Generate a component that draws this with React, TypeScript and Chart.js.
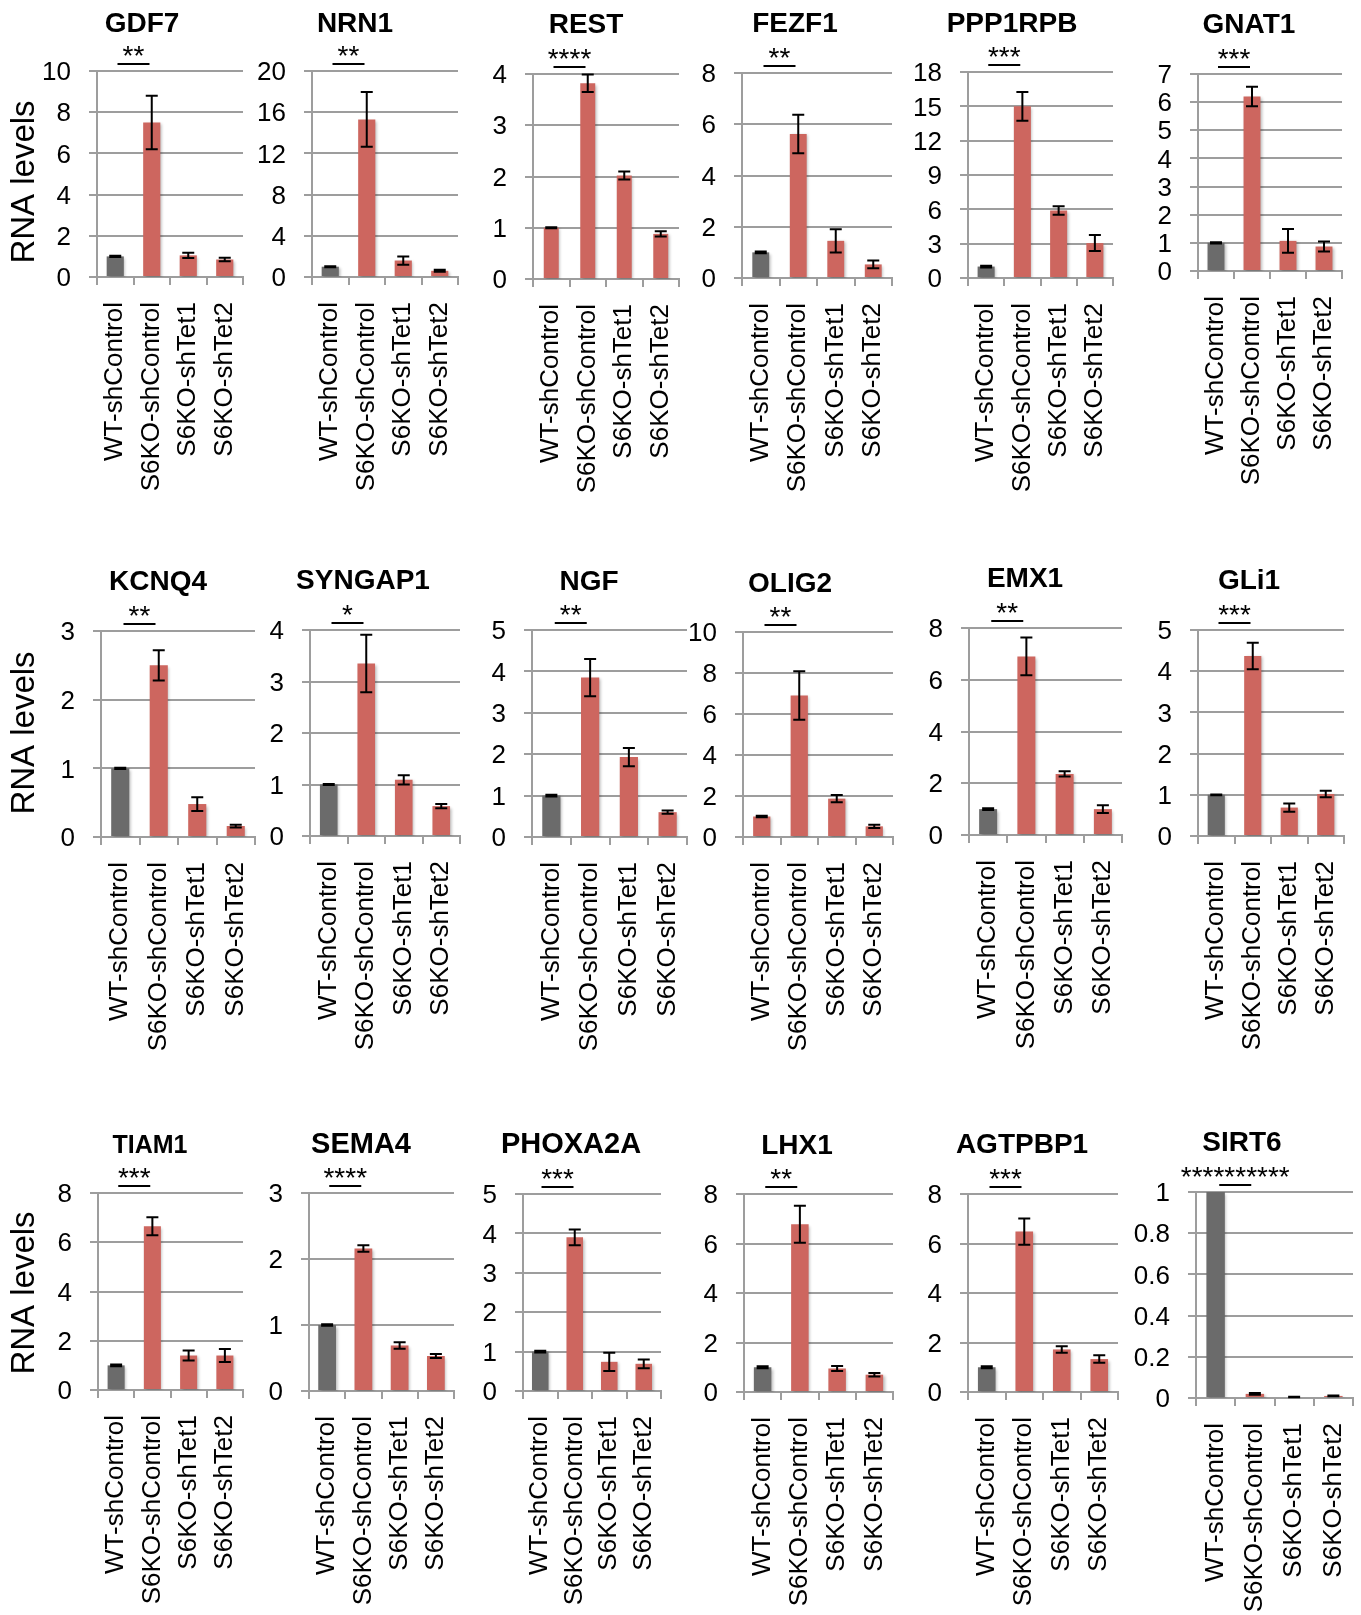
import React, { useEffect, useRef } from 'react';
import { Chart, registerables } from 'chart.js';

Chart.register(...registerables);

const FONT = '"Liberation Sans", Arial, Helvetica, sans-serif';
Chart.defaults.font.family = FONT;

// ---------- data ----------
const categories = ['WT-shControl', 'S6KO-shControl', 'S6KO-shTet1', 'S6KO-shTet2'];

const genes = [
  'GDF7', 'NRN1', 'REST', 'FEZF1', 'PPP1RPB', 'GNAT1',
  'KCNQ4', 'SYNGAP1', 'NGF', 'OLIG2', 'EMX1', 'GLi1',
  'TIAM1', 'SEMA4', 'PHOXA2A', 'LHX1', 'AGTPBP1', 'SIRT6',
];

const stars = [
  '**', '**', '****', '**', '***', '***',
  '**', '*', '**', '**', '**', '***',
  '***', '****', '***', '**', '***', '**********',
];

const means = [
  [1.0, 7.5, 1.05, 0.85],
  [1.0, 15.3, 1.6, 0.6],
  [1.0, 3.82, 2.02, 0.88],
  [1.0, 5.62, 1.45, 0.53],
  [1.0, 15.0, 5.9, 3.05],
  [1.0, 6.2, 1.07, 0.87],
  [1.0, 2.5, 0.48, 0.16],
  [1.0, 3.35, 1.09, 0.58],
  [1.0, 3.85, 1.93, 0.6],
  [1.0, 6.9, 1.87, 0.52],
  [1.0, 6.9, 2.36, 1.0],
  [1.0, 4.37, 0.69, 1.02],
  [1.0, 6.65, 1.4, 1.4],
  [1.0, 2.16, 0.69, 0.53],
  [1.0, 3.9, 0.74, 0.69],
  [1.0, 6.78, 0.95, 0.7],
  [1.0, 6.48, 1.72, 1.33],
  [1.0, 0.02, 0.005, 0.01],
];

const errors = [
  [0.03, 1.3, 0.13, 0.08],
  [0.05, 2.65, 0.4, 0.1],
  [0.01, 0.17, 0.08, 0.05],
  [0.03, 0.75, 0.45, 0.15],
  [0.08, 1.25, 0.38, 0.7],
  [0.02, 0.35, 0.42, 0.18],
  [0.01, 0.22, 0.1, 0.02],
  [0.01, 0.56, 0.09, 0.04],
  [0.02, 0.45, 0.22, 0.04],
  [0.04, 1.18, 0.18, 0.08],
  [0.03, 0.73, 0.1, 0.15],
  [0.01, 0.32, 0.1, 0.08],
  [0.04, 0.37, 0.2, 0.26],
  [0.01, 0.05, 0.05, 0.03],
  [0.02, 0.2, 0.23, 0.11],
  [0.04, 0.75, 0.1, 0.07],
  [0.04, 0.53, 0.13, 0.15],
  [0, 0.004, 0.001, 0.002],
];

const yMax = [10, 20, 4, 8, 18, 7, 3, 4, 5, 10, 8, 5, 8, 3, 5, 8, 8, 1];
const yStep = [2, 4, 1, 2, 3, 1, 1, 1, 1, 2, 2, 1, 2, 1, 1, 2, 2, 0.2];
// whether the WT-shControl bar is drawn in the red colour
const firstBarRed = [false, false, true, false, false, false, false, false, false, true, false, false, false, false, false, false, false, false];

const yAxisTitle = 'RNA levels';

// ---------- layout / style ----------
const RED = '#cd665f';
const GRAY = '#6b6b6b';
const GRID = '#9d9d9d';

// plot area [left, top, right, bottom] in page px
const plotBoxes = [
  [97, 71, 243, 277], [312, 71, 458, 277], [533, 74, 679, 279], [742, 73, 892, 278], [968, 72, 1113, 278], [1198, 74, 1342, 271],
  [101, 631, 255, 837], [310, 630, 460, 836], [532, 630, 687, 837], [743, 632, 893, 837], [969, 628, 1122, 835], [1198, 630, 1344, 836],
  [98, 1193, 243, 1390], [309, 1193, 454, 1391], [523, 1194, 661, 1391], [744, 1194, 893, 1392], [968, 1194, 1118, 1392], [1196, 1192, 1353, 1398],
];
// title centre x, baseline y
const titlePos = [
  [142, 32], [355, 32], [586, 33], [795, 32], [1012, 32], [1249, 33],
  [158, 590], [363, 589], [589, 590], [790, 592], [1025, 587], [1249, 589],
  [150, 1153], [361, 1153], [571, 1153], [797, 1154], [1022, 1153], [1242, 1151],
];
const titleSize = [28, 28, 28, 28, 28, 28, 28, 28, 28, 28, 28, 28, 25, 29, 29, 28, 28, 28];
const barPct = [0.47, 0.47, 0.41, 0.45, 0.47, 0.47, 0.47, 0.47, 0.47, 0.46, 0.47, 0.47, 0.47, 0.49, 0.48, 0.47, 0.47, 0.47];
const yLabelPos = [[25, 182], [25, 733], [25, 1293]];

function Panel({ idx }: { idx: number }) {
  const ref = useRef<HTMLCanvasElement>(null);
  const [L, T, R, B] = plotBoxes[idx];
  const col = idx % 6;
  const row = Math.floor(idx / 6);
  const cx = col === 0 ? 0 : L - 90;
  const cy = T - 71;
  const cw = R + 8 - cx;
  const ch = Math.min(B + 228, 1612) - cy;

  useEffect(() => {
    const canvas = ref.current!;
    const vals = means[idx];
    const errs = errors[idx];
    const colors = vals.map((_, i) => (i === 0 && !firstBarRed[idx] ? GRAY : RED));

    const decor = {
      id: 'decor' + idx,
      beforeDatasetsDraw(chart: any) {
        const ctx = chart.ctx;
        ctx.save();
        ctx.shadowColor = 'rgba(0,0,0,0.28)';
        ctx.shadowBlur = 3;
        ctx.shadowOffsetX = 1.5;
        ctx.shadowOffsetY = 1.5;
      },
      afterDatasetsDraw(chart: any) {
        const ctx = chart.ctx;
        ctx.restore();
        const meta = chart.getDatasetMeta(0);
        const ys = chart.scales.y;
        ctx.save();
        ctx.strokeStyle = '#000';
        ctx.lineWidth = 2;
        meta.data.forEach((bar: any, i: number) => {
          const e = errs[i];
          if (!e) return;
          const v = vals[i];
          const yt = ys.getPixelForValue(v + e);
          const yb = ys.getPixelForValue(v - e);
          ctx.beginPath();
          ctx.moveTo(bar.x, yt);
          ctx.lineTo(bar.x, yb);
          ctx.moveTo(bar.x - 6, yt);
          ctx.lineTo(bar.x + 6, yt);
          ctx.moveTo(bar.x - 6, yb);
          ctx.lineTo(bar.x + 6, yb);
          ctx.stroke();
        });
        ctx.restore();
      },
      afterDraw(chart: any) {
        const ctx = chart.ctx;
        const area = chart.chartArea;
        const meta = chart.getDatasetMeta(0);
        ctx.save();
        // title
        ctx.fillStyle = '#000';
        ctx.textAlign = 'center';
        ctx.textBaseline = 'alphabetic';
        ctx.font = `bold ${titleSize[idx]}px ${FONT}`;
        ctx.fillText(genes[idx], titlePos[idx][0] - cx, titlePos[idx][1] - cy);
        // significance bracket
        const mid = (meta.data[0].x + meta.data[1].x) / 2;
        const ly = area.top - 7;
        ctx.strokeStyle = '#000';
        ctx.lineWidth = 2;
        ctx.beginPath();
        ctx.moveTo(mid - 16, ly);
        ctx.lineTo(mid + 16, ly);
        ctx.stroke();
        ctx.font = `28px ${FONT}`;
        ctx.fillText(stars[idx], mid, ly + 1);
        // y title
        if (col === 0) {
          ctx.translate(yLabelPos[row][0] - cx, yLabelPos[row][1] - cy);
          ctx.rotate(-Math.PI / 2);
          ctx.font = `33px ${FONT}`;
          ctx.textBaseline = 'middle';
          ctx.fillText(yAxisTitle, 0, 0);
        }
        ctx.restore();
      },
    };

    const chart = new Chart(canvas, {
      type: 'bar',
      data: {
        labels: categories,
        datasets: [
          {
            data: vals,
            backgroundColor: colors,
            borderWidth: 0,
            barPercentage: barPct[idx],
            categoryPercentage: 1,
          },
        ],
      },
      options: {
        responsive: false,
        animation: false,
        devicePixelRatio: 1,
        layout: { padding: { left: 0, top: T - cy, right: cx + cw - R, bottom: 0 } },
        plugins: { legend: { display: false }, tooltip: { enabled: false }, title: { display: false } },
        scales: {
          x: {
            type: 'category',
            offset: true,
            grid: { offset: true, drawOnChartArea: false, drawTicks: true, tickLength: 8, color: GRID, lineWidth: 2 },
            border: { display: true, color: GRID, width: 2 },
            ticks: {
              color: '#000',
              font: { size: 26, family: FONT },
              minRotation: 90,
              maxRotation: 90,
              autoSkip: false,
              padding: 17,
            },
            afterFit: (s: any) => {
              s.height = cy + ch - B;
              s.paddingLeft = 0;
              s.paddingRight = 0;
            },
          },
          y: {
            min: 0,
            max: yMax[idx],
            grid: { color: GRID, lineWidth: 2, drawTicks: true, tickLength: 8 },
            border: { display: true, color: GRID, width: 2 },
            ticks: {
              stepSize: yStep[idx],
              autoSkip: false,
              color: '#000',
              font: { size: 26, family: FONT },
              padding: 18,
              labelOffset: 2,
              callback: (v: any) => String(Number(Number(v).toFixed(3))),
            },
            afterFit: (s: any) => {
              s.width = L - cx;
              s.paddingTop = 0;
              s.paddingBottom = 0;
            },
          },
        },
      },
      plugins: [decor],
    } as any);
    return () => chart.destroy();
  }, [idx]);

  return (
    <canvas
      ref={ref}
      width={cw}
      height={ch}
      style={{ position: 'absolute', left: cx, top: cy, width: cw, height: ch, display: 'block' }}
    />
  );
}

export default function App() {
  return (
    <div
      style={{
        position: 'absolute',
        left: 0,
        top: 0,
        width: 1361,
        height: 1615,
        overflow: 'hidden',
        background: '#fff',
      }}
    >
      {genes.map((g, i) => (
        <Panel key={g} idx={i} />
      ))}
    </div>
  );
}
